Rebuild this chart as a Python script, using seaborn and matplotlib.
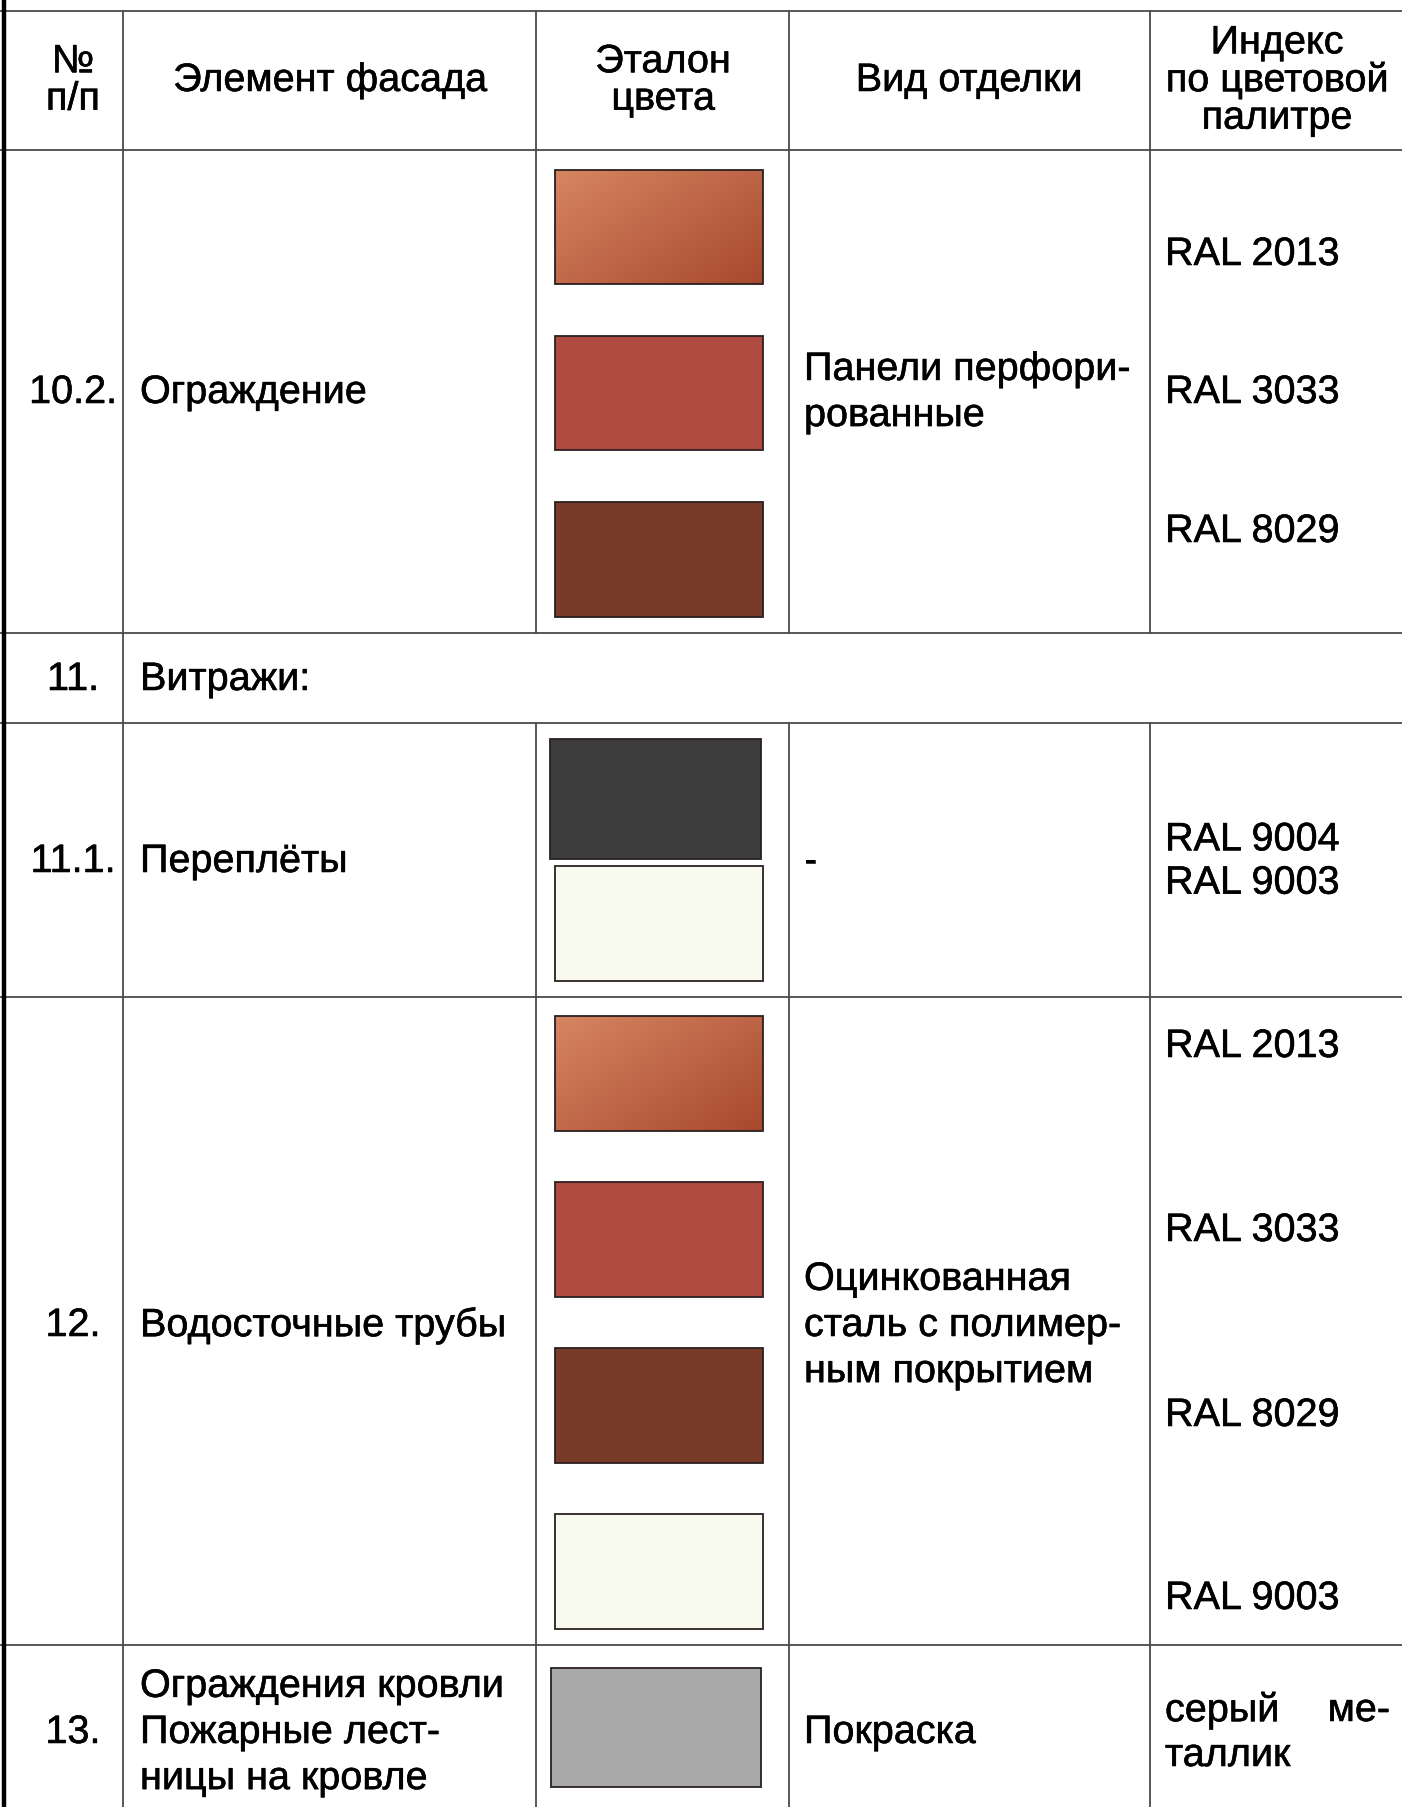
import numpy as np
import matplotlib.pyplot as plt
import matplotlib.colors as mcolors
import matplotlib.patheffects as pe
from matplotlib.patches import Rectangle
import seaborn as sns

sns.set_style("white")
plt.rcParams['font.family'] = ['Liberation Sans', 'DejaVu Sans']

# ---- table content ----
headers = ["№\nп/п", "Элемент фасада", "Эталон\nцвета", "Вид отделки",
           "Индекс\nпо цветовой\nпалитре"]
row_nums = ["10.2.", "11.", "11.1.", "12.", "13."]
elements = ["Ограждение", "Витражи:", "Переплёты", "Водосточные трубы",
            "Ограждения кровли\nПожарные лест-\nницы на кровле"]
finishes = ["Панели перфори-\nрованные", "", "-",
            "Оцинкованная\nсталь с полимер-\nным покрытием", "Покраска"]
ral_10_2 = ["RAL 2013", "RAL 3033", "RAL 8029"]
ral_11_1 = ["RAL 9004\nRAL 9003"]
ral_12 = ["RAL 2013", "RAL 3033", "RAL 8029", "RAL 9003"]
colors_10_2 = ["grad", "#b04b41", "#783b2a"]
colors_11_1 = ["#3d3d3d", "#f8faf0"]
colors_12 = ["grad", "#b04b41", "#783b2a", "#f8faf0"]
colors_13 = ["#a8a8a8"]

# ---- layout (pixels) ----
W, H = 1402, 1808
col_x = [123, 536, 789, 1150]
row_y = [151, 634, 724, 998, 1646, H]
top_y = 11.5
sw_x0, sw_x1 = 555, 763
sw_10_2 = [(171, 285), (337, 451), (503, 618)]
sw_11_1 = [(740, 860, 550, 761), (867, 982, 555, 763)]
sw_12 = [(1017, 1132), (1183, 1298), (1349, 1464), (1515, 1630)]
sw_13 = [(1669, 1788, 551, 761)]
ral_y_10_2 = [255, 393, 532]
ral_y_12 = [1047, 1231, 1416, 1599]

fig = plt.figure(figsize=(W / 100, H / 100), dpi=100)
ax = fig.add_axes([0, 0, 1, 1])
ax.set_xlim(0, W)
ax.set_ylim(H, 0)
ax.axis('off')

line_c = '#4a4a4a'
lw = 1.3
fs = 28.5
bold = [pe.withStroke(linewidth=0.4, foreground='black')]

# horizontal lines
for y in [top_y] + row_y[:-1]:
    ax.plot([0, W], [y, y], color=line_c, lw=lw)
# vertical lines (row 11 is merged across the last three columns)
ax.plot([col_x[0]] * 2, [top_y, H], color=line_c, lw=lw)
for x in col_x[1:]:
    ax.plot([x, x], [top_y, row_y[1]], color=line_c, lw=lw)
    ax.plot([x, x], [row_y[2], H], color=line_c, lw=lw)
# thick left border
ax.plot([4, 4], [0, H], color='black', lw=3.2)


def swatch(y0, y1, c, x0=sw_x0, x1=sw_x1):
    if c == "grad":
        c1 = np.array(mcolors.to_rgb("#d68562"))
        c2 = np.array(mcolors.to_rgb("#a8492e"))
        gx, gy = np.meshgrid(np.linspace(0, 1, 60), np.linspace(0, 1, 40))
        t = np.clip(0.55 * gx + 0.45 * gy, 0, 1)[..., None]
        img = c1 * (1 - t) + c2 * t
        ax.imshow(img, extent=(x0, x1, y1, y0), aspect='auto', zorder=2)
        ax.add_patch(Rectangle((x0, y0), x1 - x0, y1 - y0, fill=False,
                               ec='#2a2020', lw=1.3, zorder=3))
    else:
        ax.add_patch(Rectangle((x0, y0), x1 - x0, y1 - y0, fc=c,
                               ec='#2a2020', lw=1.3, zorder=3))


for (y0, y1), c in zip(sw_10_2, colors_10_2):
    swatch(y0, y1, c)
for (y0, y1, x0, x1), c in zip(sw_11_1, colors_11_1):
    swatch(y0, y1, c, x0, x1)
for (y0, y1), c in zip(sw_12, colors_12):
    swatch(y0, y1, c)
for (y0, y1, x0, x1), c in zip(sw_13, colors_13):
    swatch(y0, y1, c, x0, x1)


def txt(x, y, s, ha='left', ls=1.27):
    ax.text(x, y, s, ha=ha, va='center', fontsize=fs, linespacing=ls,
            color='black', path_effects=bold)


# header
head_x = [73, 330, 663, 969, 1277]
for x, t in zip(head_x, headers):
    txt(x, 81, t, ha='center', ls=0.98)

# body text
body_y = [393, 680, 862, 1326, 1733]
for i, y in enumerate(body_y):
    txt(73, y, row_nums[i], ha='center')
    txt(140, y, elements[i])
    if finishes[i]:
        txt(804, y, finishes[i])

for y, t in zip(ral_y_10_2, ral_10_2):
    txt(1165, y, t)
txt(1165, 862, ral_11_1[0], ls=1.18)
for y, t in zip(ral_y_12, ral_12):
    txt(1165, y, t)
# justified "серый ме- / таллик"
txt(1165, 1711, "серый")
txt(1390, 1711, "ме-", ha='right')
txt(1165, 1756, "таллик")

fig.savefig("out.png", dpi=100, facecolor='white')
